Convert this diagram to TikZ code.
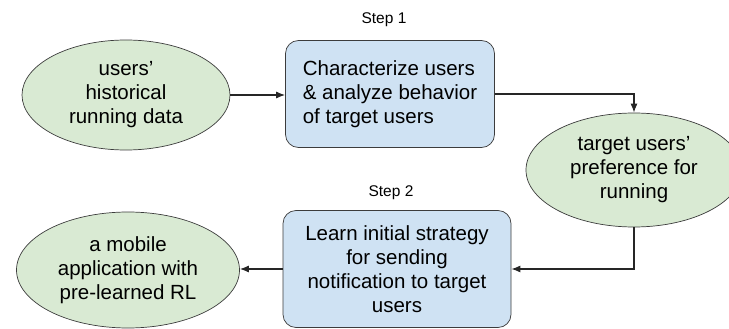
\documentclass[tikz,border=0pt]{standalone}
\usepackage{fontspec}
\setmainfont{Liberation Sans}
\usepackage{xcolor}
\usepackage{tikz}
\usetikzlibrary{shapes.geometric, arrows.meta, positioning}

\definecolor{datagreen}{HTML}{D9EAD3}
\definecolor{stepblue}{HTML}{CFE2F3}
\definecolor{edgegray}{HTML}{3C3C3C}

\begin{document}
\begin{tikzpicture}[x=1pt, y=-1pt,
    data/.style={ellipse, draw=edgegray, line width=0.7pt, fill=datagreen, inner sep=0pt,
        align=center, font=\fontsize{20.5}{24}\selectfont},
    stepbox/.style={rectangle, rounded corners=13pt, draw=edgegray, line width=0.7pt, fill=stepblue,
        inner sep=0pt, font=\fontsize{20.5}{24}\selectfont},
    steplabel/.style={font=\fontsize{15.5}{18}\selectfont},
    flow/.style={-{Latex[length=9pt, width=7pt]}, line width=1.1pt, black!85}]
\useasboundingbox (0,0) rectangle (729,329);
\clip (0,0) rectangle (729,329);

% Step 1
\node[steplabel] (lbl1) at (384,20) {Step 1};
\node[data, minimum width=208, minimum height=110] (hist) at (126,95) {users'\\historical\\running data};
\node[stepbox, align=left, minimum width=209, minimum height=107] (charact) at (390,94)
    {Characterize users\\\& analyze behavior\\of target users};
\node[data, minimum width=216, minimum height=114] (pref) at (634,170) {target users'\\preference for\\running};

% Step 2
\node[steplabel] (lbl2) at (391,193) {Step 2};
\node[stepbox, align=center, minimum width=228, minimum height=117] (learn) at (397,269)
    {Learn initial strategy\\for sending\\notification to target\\users};
\node[data, minimum width=223, minimum height=116] (app) at (128,270) {a mobile\\application with\\pre-learned RL};

% arrows
\draw[flow] (hist.east) -- (hist.east -| charact.west);
\draw[flow] (charact.east) -| (pref.north);
\draw[flow] (pref.south) |- (learn.east);
\draw[flow] (learn.west) -- (learn.west -| app.east);
\end{tikzpicture}
\end{document}
